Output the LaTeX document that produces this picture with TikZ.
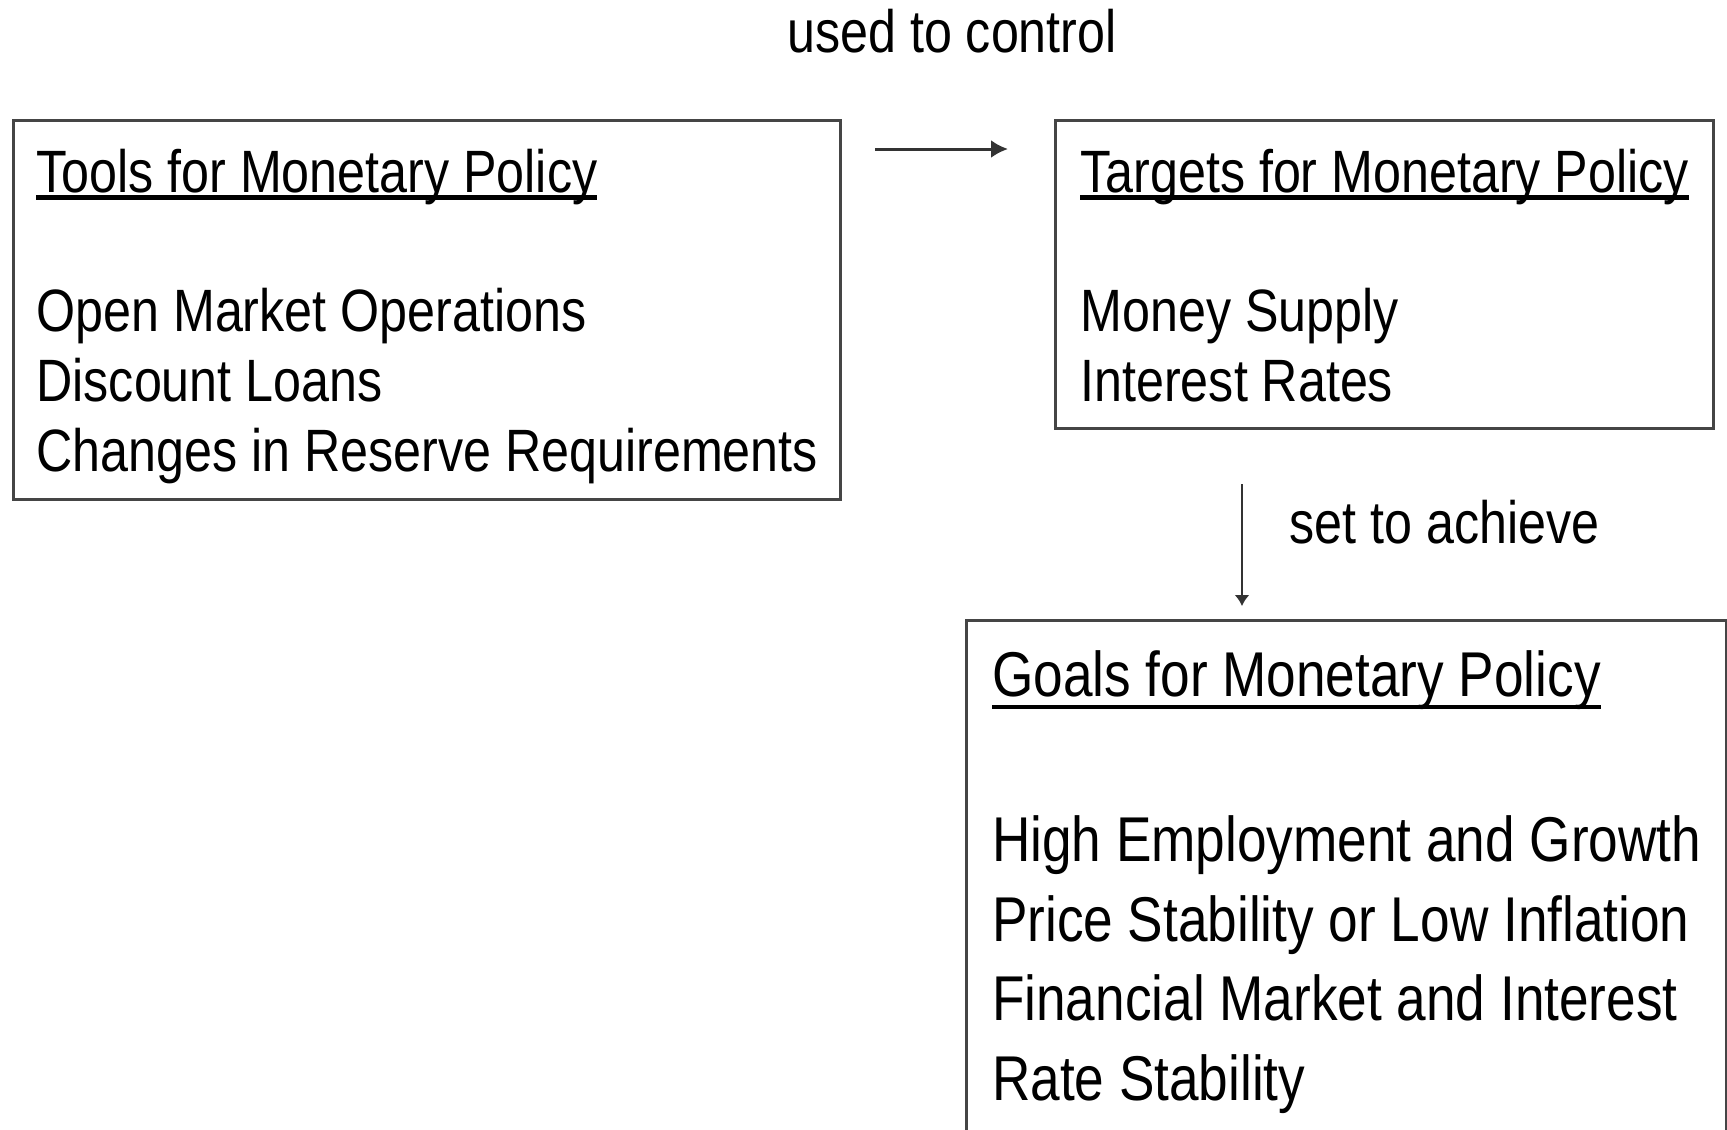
\documentclass[tikz,border=0pt]{standalone}
\usepackage{fontspec}
\setmainfont{Liberation Sans}[FakeStretch=0.84]
\usetikzlibrary{arrows.meta, positioning, calc}
\definecolor{cframe}{HTML}{454545}
\definecolor{carrow}{HTML}{333333}
% underlined heading line of a panel, rule a little below the baseline
\newsavebox{\headbox}
\newcommand{\boxhead}[2][2pt]{\sbox{\headbox}{#2}\rlap{\rule[-#1]{\wd\headbox}{1.25pt}}\usebox{\headbox}}
\tikzset{
  every picture/.style={x=0.01cm, y=-0.01cm},
  panel/.style={draw=cframe, line width=0.85pt, anchor=north west, align=left, inner sep=0pt,
    font=\fontsize{17}{20}\selectfont},
  lbl/.style={font=\fontsize{17}{20}\selectfont},
  ctl/.style={-{Latex[length=1.7mm, width=1.8mm]}, draw=carrow, line width=0.85pt},
  ach/.style={-{Latex[length=1.1mm, width=1.5mm]}, draw=carrow, line width=0.6pt},
}

\begin{document}
\begin{tikzpicture}
  \path[use as bounding box, clip] (0,0) rectangle (1727,1129);

  % the three panels (text height runs down to the last baseline)
  \node[panel, minimum width=8.27cm, text height=3.51cm, text depth=0.28cm] (tools) at (12,119)
    {\boxhead{Tools for Monetary Policy}\\[19.4pt]
     Open Market Operations\\
     Discount Loans\\
     Changes in Reserve Requirements};
  \node[panel, minimum width=6.58cm, text height=2.81cm, text depth=0.27cm] (targets) at (1054,119)
    {\boxhead{Targets for Monetary Policy}\\[19.4pt]
     Money Supply\\
     Interest Rates};
  \node[panel, minimum width=7.60cm, text height=4.80cm, text depth=0.60cm,
        font=\fontsize{18}{22.7}\selectfont] (goals) at (965,619)
    {\boxhead[3.6pt]{Goals for Monetary Policy}\\[24.1pt]
     High Employment and Growth\\
     Price Stability or Low Inflation\\
     Financial Market and Interest\\
     Rate Stability};

  % links
  \draw[ctl] ($(tools.north east)+(33,30)$) -- ($(targets.north west)+(-46,30)$);
  \draw[ach] ($(targets.south west)+(188,54)$) -- ($(goals.north west)+(277,-13)$);
  \node[lbl, anchor=base] (usedto) at (952,52) {used to control};
  \node[lbl, anchor=base west] (setto) at (1277,543) {set to achieve};
\end{tikzpicture}
\end{document}
